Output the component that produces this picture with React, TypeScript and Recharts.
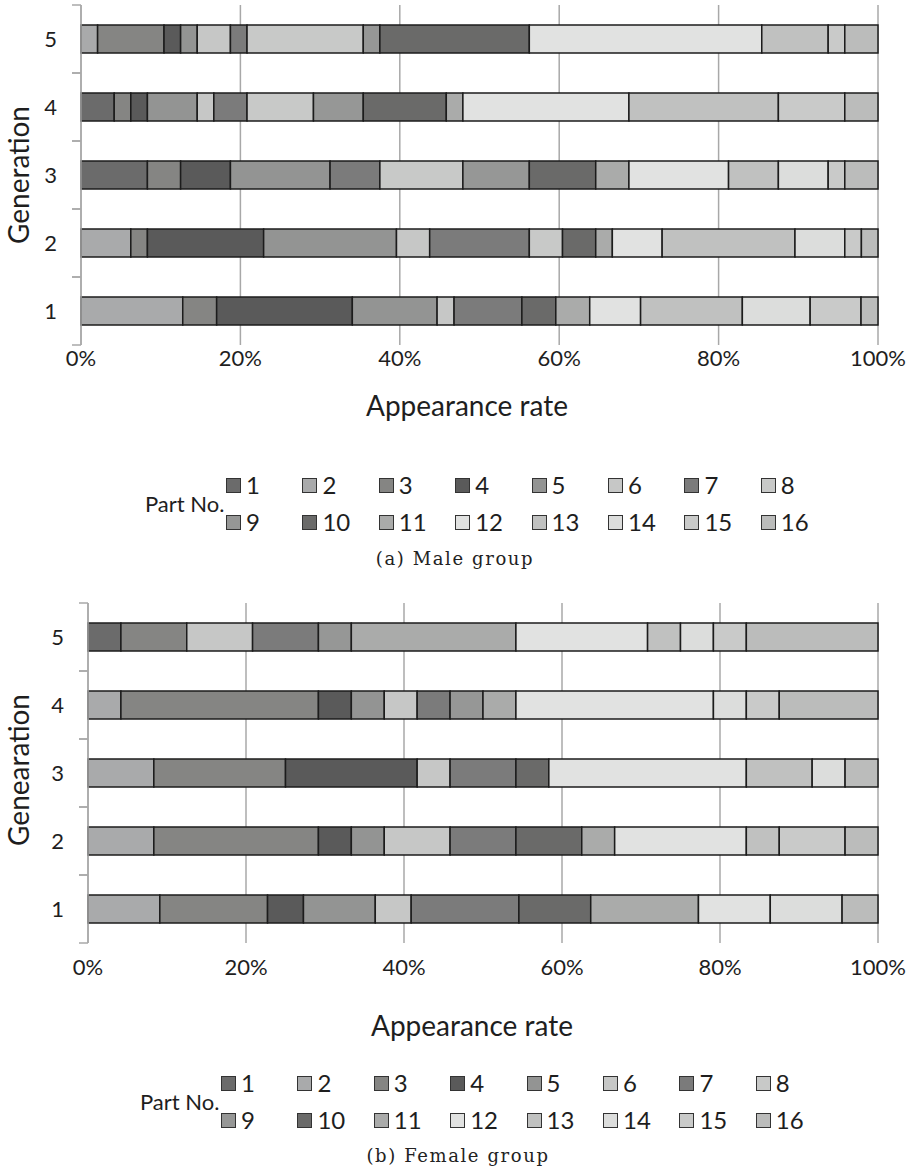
import React from 'react';
import { BarChart, Bar, XAxis, YAxis, CartesianGrid } from 'recharts';

// ---------- data ----------
const generations = ['1', '2', '3', '4', '5'];
const partNames = ['1', '2', '3', '4', '5', '6', '7', '8', '9', '10', '11', '12', '13', '14', '15', '16'];
const partColors = [
  '#6b6b6b', '#a9aaab', '#858583', '#5a5a5a', '#939493', '#c6c7c6', '#7b7b7b', '#c8c9c8',
  '#969796', '#6a6a69', '#aaabaa', '#e1e2e1', '#c0c1c0', '#dcdddc', '#c9cac9', '#bbbcbb',
];
const xTicks = [0, 0.2, 0.4, 0.6, 0.8, 1];

// counts of appearances per part (parts 1..16), per generation
const maleGen1 = [0, 6, 2, 8, 5, 1, 4, 0, 0, 2, 2, 3, 6, 4, 3, 1];
const maleGen2 = [0, 3, 1, 7, 8, 2, 6, 2, 0, 2, 1, 3, 8, 3, 1, 1];
const maleGen3 = [4, 0, 2, 3, 6, 0, 3, 5, 4, 4, 2, 6, 3, 3, 1, 2];
const maleGen4 = [2, 0, 1, 1, 3, 1, 2, 4, 3, 5, 1, 10, 9, 0, 4, 2];
const maleGen5 = [0, 1, 4, 1, 1, 2, 1, 7, 1, 9, 0, 14, 4, 0, 1, 2];

const femaleGen1 = [0, 2, 3, 1, 2, 1, 3, 0, 0, 2, 3, 2, 0, 2, 0, 1];
const femaleGen2 = [0, 2, 5, 1, 1, 2, 2, 0, 0, 2, 1, 4, 1, 0, 2, 1];
const femaleGen3 = [0, 2, 4, 4, 0, 1, 2, 0, 0, 1, 0, 6, 2, 1, 0, 1];
const femaleGen4 = [0, 1, 6, 1, 1, 1, 1, 0, 1, 0, 1, 6, 0, 1, 1, 3];
const femaleGen5 = [1, 0, 2, 0, 0, 2, 2, 0, 1, 0, 5, 4, 1, 1, 1, 4];

function buildRows(gens: number[][]) {
  return generations.map((g, i) => {
    const row: Record<string, any> = { gen: g };
    partNames.forEach((p, j) => {
      row['p' + p] = gens[i][j];
    });
    return row;
  });
}

const maleData = buildRows([maleGen1, maleGen2, maleGen3, maleGen4, maleGen5]);
const femaleData = buildRows([femaleGen1, femaleGen2, femaleGen3, femaleGen4, femaleGen5]);

// ---------- styles ----------
const FONT = 'Lato, "Open Sans", sans-serif';
const TEXT = '#1e1e1e';
const AXIS = '#a8a8a8';
const TICK_GAP = 24;
const TICK_LEN = 9;

const GenTick = (props: any) => {
  const { x, y, payload } = props;
  const off = payload && payload.offset ? payload.offset : 0;
  const ax = x + TICK_GAP;
  return (
    <g>
      <line x1={ax - TICK_LEN} x2={ax} y1={y - off} y2={y - off} stroke={AXIS} strokeWidth={1.5} />
      <line x1={ax - TICK_LEN} x2={ax} y1={y + off} y2={y + off} stroke={AXIS} strokeWidth={1.5} />
      <text x={x} y={y} dy="0.36em" textAnchor="end" fill={TEXT} fontSize={22} fontFamily={FONT}>
        {payload.value}
      </text>
    </g>
  );
};

const pct = (v: number) => `${Math.round(v * 100)}%`;

function StackChart({ data, top, plotLeft, tickMargin }: { data: any[]; top: number; plotLeft: number; tickMargin: number }) {
  return (
    <div style={{ position: 'absolute', left: 0, top }}>
      <BarChart
        width={916}
        height={400}
        data={data}
        layout="vertical"
        stackOffset="expand"
        margin={{ top: 5, right: 38, bottom: 0, left: 0 }}
        barSize={28}
      >
        <CartesianGrid horizontal={false} vertical stroke={AXIS} strokeWidth={1.5} />
        <XAxis
          type="number"
          domain={[0, 1]}
          ticks={xTicks}
          tickFormatter={pct}
          axisLine={false}
          tickLine={false}
          tickSize={0}
          tickMargin={tickMargin}
          height={55}
          tick={{ fill: TEXT, fontSize: 22, fontFamily: FONT }}
          interval={0}
        />
        <YAxis
          type="category"
          dataKey="gen"
          reversed
          width={plotLeft}
          axisLine={{ stroke: AXIS, strokeWidth: 1.5 }}
          tickLine={false}
          tickSize={0}
          tickMargin={TICK_GAP}
          tick={<GenTick />}
          interval={0}
        />
        {partNames.map((p, i) => (
          <Bar
            key={p}
            dataKey={'p' + p}
            stackId="a"
            fill={partColors[i]}
            stroke="#1c1c1c"
            strokeWidth={1.5}
            isAnimationActive={false}
          />
        ))}
      </BarChart>
    </div>
  );
}

function Legend({ top, left }: { top: number; left: number }) {
  return (
    <div style={{ position: 'absolute', left, top, fontFamily: FONT, color: TEXT }}>
      <div style={{ position: 'absolute', left: 0, top: 19, fontSize: 22, whiteSpace: 'nowrap', lineHeight: '30px' }}>
        Part No.
      </div>
      {partNames.map((p, i) => {
        const col = i % 8;
        const row = Math.floor(i / 8);
        return (
          <div
            key={p}
            style={{
              position: 'absolute',
              left: 81 + col * 76.4,
              top: row * 37,
              display: 'flex',
              alignItems: 'center',
              height: 30,
              whiteSpace: 'nowrap',
            }}
          >
            <span
              style={{
                display: 'inline-block',
                width: 13,
                height: 13,
                background: partColors[i],
                border: '1.5px solid #333',
                marginRight: 5,
              }}
            />
            <span style={{ fontSize: 24, lineHeight: '30px' }}>{p}</span>
          </div>
        );
      })}
    </div>
  );
}

const Title = ({ text, cx, cy, rotate = false }: { text: string; cx: number; cy: number; rotate?: boolean }) => (
  <div
    style={{
      position: 'absolute',
      left: cx,
      top: cy,
      transform: `translate(-50%, -50%)${rotate ? ' rotate(-90deg)' : ''}`,
      fontFamily: FONT,
      fontSize: 28,
      color: TEXT,
      whiteSpace: 'nowrap',
    }}
  >
    {text}
  </div>
);

const Caption = ({ text, cx, cy }: { text: string; cx: number; cy: number }) => (
  <div
    style={{
      position: 'absolute',
      left: cx,
      top: cy,
      transform: 'translate(-50%, -50%)',
      fontFamily: '"DejaVu Serif", "Liberation Serif", serif',
      fontSize: 18,
      letterSpacing: 1.6,
      color: '#222',
      whiteSpace: 'nowrap',
    }}
  >
    {text}
  </div>
);

export default function App() {
  return (
    <div style={{ position: 'absolute', left: 0, top: 0, width: 916, height: 1172, background: '#fff' }}>
      <StackChart data={maleData} top={0} plotLeft={81} tickMargin={5} />
      <Title text="Generation" cx={18} cy={175} rotate />
      <Title text="Appearance rate" cx={467} cy={405} />
      <Legend top={470} left={145} />
      <Caption text="(a) Male group" cx={455} cy={558} />

      <StackChart data={femaleData} top={598} plotLeft={88} tickMargin={16} />
      <Title text="Genearation" cx={18} cy={770} rotate />
      <Title text="Appearance rate" cx={472} cy={1025} />
      <Legend top={1068} left={140} />
      <Caption text="(b) Female group" cx={458} cy={1155} />
    </div>
  );
}
